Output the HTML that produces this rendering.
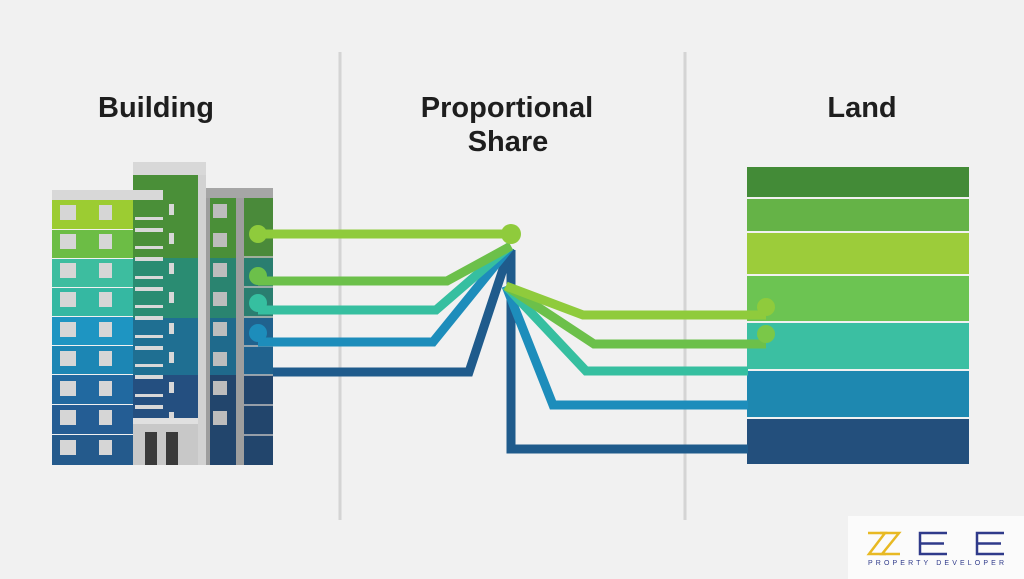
<!DOCTYPE html>
<html><head><meta charset="utf-8"><style>
html,body{margin:0;padding:0;background:#f1f1f1;}
svg{display:block}
</style></head><body>
<svg width="1024" height="579" viewBox="0 0 1024 579" xmlns="http://www.w3.org/2000/svg">
<rect width="1024" height="579" fill="#f1f1f1"/>
<line x1="340" y1="52" x2="340" y2="520" stroke="#d4d4d4" stroke-width="3"/>
<line x1="685" y1="52" x2="685" y2="520" stroke="#d4d4d4" stroke-width="3"/>
<g font-family="Liberation Sans, sans-serif" font-weight="bold" font-size="29" fill="#1e1e1e" text-anchor="middle">
<text x="156" y="117">Building</text>
<text x="507" y="117">Proportional</text>
<text x="508" y="151">Share</text>
<text x="862" y="117">Land</text>
</g>
<!-- left tower -->
<rect x="52" y="190" width="111" height="10" fill="#d8d8d8"/>
<rect x="52" y="200" width="83" height="29" fill="#9ccc32"/>
<rect x="52" y="230" width="83" height="28" fill="#6cbd45"/>
<rect x="52" y="259" width="83" height="28" fill="#3dbd9f"/>
<rect x="52" y="288" width="83" height="28" fill="#35b8a2"/>
<rect x="52" y="317" width="83" height="28" fill="#1e95c2"/>
<rect x="52" y="346" width="83" height="28" fill="#1c86b4"/>
<rect x="52" y="375" width="83" height="29" fill="#2169a0"/>
<rect x="52" y="405" width="83" height="29" fill="#245d94"/>
<rect x="52" y="435" width="83" height="30" fill="#245a8c"/>
<g fill="#d6d6d6">
<rect x="60" y="205" width="16" height="15"/><rect x="99" y="205" width="13" height="15"/>
<rect x="60" y="234" width="16" height="15"/><rect x="99" y="234" width="13" height="15"/>
<rect x="60" y="263" width="16" height="15"/><rect x="99" y="263" width="13" height="15"/>
<rect x="60" y="292" width="16" height="15"/><rect x="99" y="292" width="13" height="15"/>
<rect x="60" y="322" width="16" height="15"/><rect x="99" y="322" width="13" height="15"/>
<rect x="60" y="351" width="16" height="15"/><rect x="99" y="351" width="13" height="15"/>
<rect x="60" y="381" width="16" height="15"/><rect x="99" y="381" width="13" height="15"/>
<rect x="60" y="410" width="16" height="15"/><rect x="99" y="410" width="13" height="15"/>
<rect x="60" y="440" width="16" height="15"/><rect x="99" y="440" width="13" height="15"/>
</g>
<!-- middle tower -->
<rect x="133" y="162" width="73" height="13" fill="#d8d8d8"/>
<rect x="198" y="175" width="8" height="290" fill="#d2d2d2"/>
<rect x="133" y="175" width="65" height="83" fill="#4a8f38"/>
<rect x="133" y="258" width="65" height="60" fill="#2a8c72"/>
<rect x="133" y="318" width="65" height="57" fill="#1f6f92"/>
<rect x="133" y="375" width="65" height="45" fill="#244f80"/>
<rect x="133" y="190" width="30" height="10" fill="#d8d8d8"/>
<g fill="#d8d8d8">
<rect x="135" y="217" width="28" height="3"/><rect x="135" y="228" width="28" height="4"/>
<rect x="135" y="246" width="28" height="3"/><rect x="135" y="257" width="28" height="4"/>
<rect x="135" y="276" width="28" height="3"/><rect x="135" y="287" width="28" height="4"/>
<rect x="135" y="305" width="28" height="3"/><rect x="135" y="316" width="28" height="4"/>
<rect x="135" y="335" width="28" height="3"/><rect x="135" y="346" width="28" height="4"/>
<rect x="135" y="364" width="28" height="3"/><rect x="135" y="375" width="28" height="4"/>
<rect x="135" y="394" width="28" height="3"/><rect x="135" y="405" width="28" height="4"/>
<rect x="169" y="204" width="5" height="11"/><rect x="169" y="233" width="5" height="11"/>
<rect x="169" y="263" width="5" height="11"/><rect x="169" y="292" width="5" height="11"/>
<rect x="169" y="323" width="5" height="11"/><rect x="169" y="352" width="5" height="11"/>
<rect x="169" y="382" width="5" height="11"/><rect x="169" y="412" width="5" height="6"/>
</g>
<rect x="133" y="418" width="65" height="47" fill="#c8c8c8"/>
<rect x="133" y="418" width="65" height="6" fill="#e0e0e0"/>
<rect x="145" y="432" width="12" height="33" fill="#3a3a3a"/>
<rect x="166" y="432" width="12" height="33" fill="#3a3a3a"/>
<!-- right tower -->
<rect x="206" y="188" width="67" height="10" fill="#a6a6a6"/>
<rect x="206" y="198" width="67" height="267" fill="#9e9e9e"/>
<g>
<rect x="210" y="198" width="26" height="60" fill="#4a8f38"/><rect x="244" y="198" width="29" height="60" fill="#4a8a3a"/>
<rect x="210" y="258" width="26" height="60" fill="#2a8470"/><rect x="244" y="258" width="29" height="60" fill="#2a7e70"/>
<rect x="210" y="318" width="26" height="57" fill="#1f6a8c"/><rect x="244" y="318" width="29" height="57" fill="#20628e"/>
<rect x="210" y="375" width="26" height="90" fill="#22456c"/><rect x="244" y="375" width="29" height="90" fill="#22456c"/>
</g>
<g fill="#bdbdbd">
<rect x="213" y="204" width="14" height="14"/><rect x="213" y="233" width="14" height="14"/>
<rect x="213" y="263" width="14" height="14"/><rect x="213" y="292" width="14" height="14"/>
<rect x="213" y="322" width="14" height="14"/><rect x="213" y="352" width="14" height="14"/>
<rect x="213" y="381" width="14" height="14"/><rect x="213" y="411" width="14" height="14"/>
</g>
<g stroke="#bcbcbc" stroke-width="1.5">
<line x1="244" y1="257" x2="273" y2="257"/><line x1="244" y1="287" x2="273" y2="287"/>
<line x1="244" y1="317" x2="273" y2="317"/><line x1="244" y1="346" x2="273" y2="346"/>
<line x1="244" y1="375" x2="273" y2="375"/><line x1="244" y1="405" x2="273" y2="405"/>
<line x1="244" y1="435" x2="273" y2="435"/>
</g>
<!-- land -->
<rect x="747" y="167" width="222" height="30" fill="#438b37"/>
<rect x="747" y="199" width="222" height="32" fill="#65b347"/>
<rect x="747" y="233" width="222" height="41" fill="#9ccc3a"/>
<rect x="747" y="276" width="222" height="45" fill="#6cc452"/>
<rect x="747" y="323" width="222" height="46" fill="#3bbfa2"/>
<rect x="747" y="371" width="222" height="46" fill="#1e88b0"/>
<rect x="747" y="419" width="222" height="45" fill="#234f7c"/>
<!-- connectors -->
<g fill="none" stroke-width="9" stroke-linejoin="miter">
<polyline points="258,234 511,234" stroke="#8fcb3c"/>
<polyline points="511,250 511,449 748,449" stroke="#1f5b8c"/>
<polyline points="273,372 469,372 510,248" stroke="#1f5b8c"/>
<polyline points="258,342 433,342 510,247" stroke="#1d8dbb"/>
<polyline points="258,310 436,310 510,246" stroke="#36bfa0"/>
<polyline points="258,281 447,281 511,246" stroke="#6cc04a"/>
<polyline points="506,286 553,405 748,405" stroke="#1d8dbb"/>
<polyline points="506,286 586,371 748,371" stroke="#36bfa0"/>
<polyline points="506,286 594,344 766,344" stroke="#6cc04a"/>
<polyline points="506,286 583,315 766,315" stroke="#8fcb3c"/>
</g>
<circle cx="258" cy="234" r="9" fill="#8fcb3c"/>
<circle cx="511" cy="234" r="10" fill="#8fcb3c"/>
<circle cx="258" cy="276" r="9" fill="#6cc04a"/>
<circle cx="258" cy="303" r="9" fill="#36bfa0"/>
<circle cx="258" cy="333" r="9" fill="#1d8dbb"/>
<circle cx="766" cy="307" r="9" fill="#8fcb3c"/>
<circle cx="766" cy="334" r="9" fill="#7ac848"/>
<!-- logo -->
<rect x="848" y="516" width="176" height="63" fill="#fbfbfb"/>
<g fill="none" stroke="#e8b923" stroke-width="2.5">
<polyline points="868,533 885,533 869,554 886,554"/>
<polyline points="880,533 899,533 882,554 900,554"/>
</g>
<g fill="none" stroke="#2f3a8a" stroke-width="2.5">
<polyline points="947,533 920,533 920,554 947,554"/><line x1="920" y1="543.5" x2="944" y2="543.5"/>
<polyline points="1004,533 977,533 977,554 1004,554"/><line x1="977" y1="543.5" x2="1001" y2="543.5"/>
</g>
<text x="868" y="565" font-family="Liberation Sans, sans-serif" font-size="7" textLength="136" lengthAdjust="spacing" fill="#2f3a8a">PROPERTY DEVELOPER</text>
</svg>
</body></html>
